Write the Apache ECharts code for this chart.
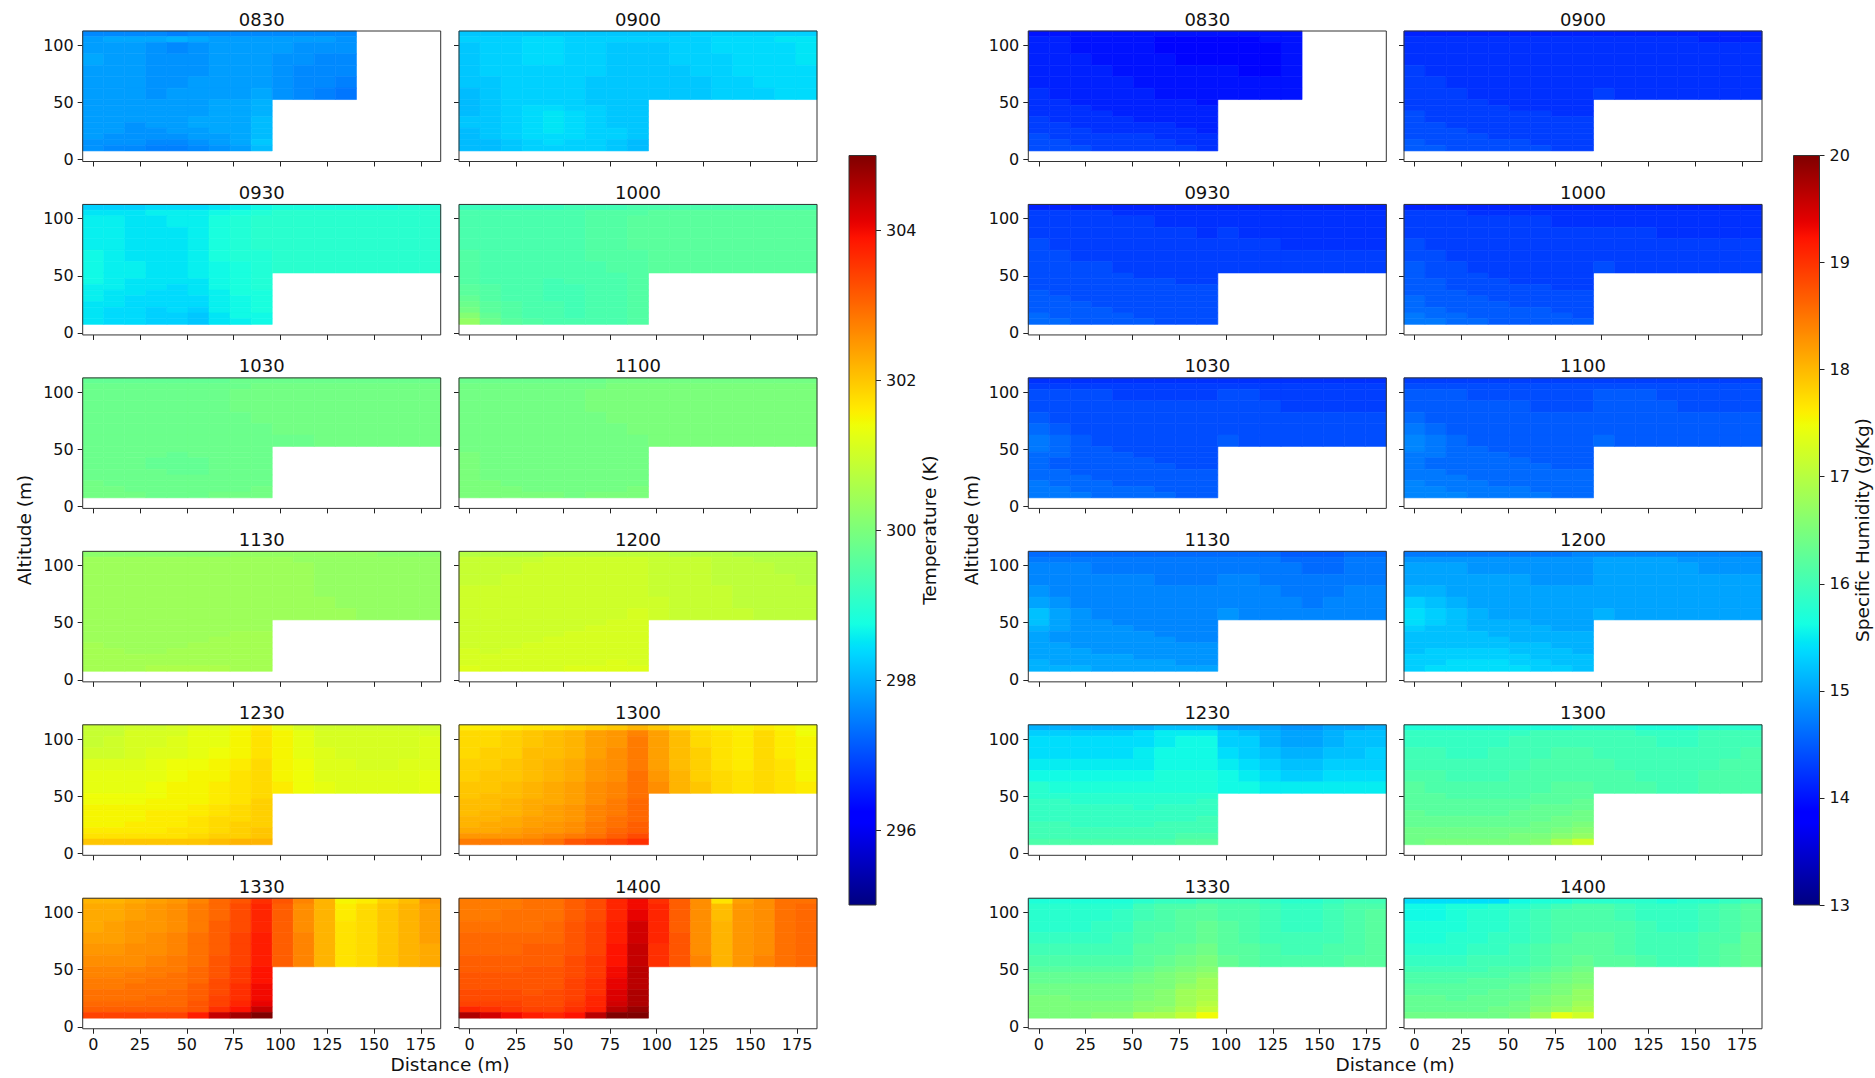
<!DOCTYPE html>
<html>
<head>
<meta charset="utf-8">
<title>Temperature and specific humidity cross-sections</title>
<script src="https://cdn.jsdelivr.net/npm/echarts@6/dist/echarts.min.js"></script>
<style>
  html, body { margin: 0; padding: 0; background: #ffffff; }
  #chart { width: 1875px; height: 1078px; }
</style>
</head>
<body>
<div id="chart"></div>
<script>
// ---------------------------------------------------------------------------
// Data
// ---------------------------------------------------------------------------
const times = ['0830', '0900', '0930', '1000', '1030', '1100', '1130', '1200', '1230', '1300', '1330', '1400'];

// horizontal positions of the measurement columns (m)
const distance = [0, 11.25, 22.5, 33.75, 45, 56.25, 67.5, 78.75, 90, 101.25, 112.5, 123.75, 135, 146.25, 157.5, 168.75, 180];
// altitude boundaries of the measurement rows, top to bottom (m)
const altitudeEdges = [112.5, 107.5, 102.5, 92.5, 82.5, 72.5, 62.5, 52.5, 47.5, 42.5, 37.5, 32.5, 27.5, 22.5, 17.5, 12.5, 7.5];

const distanceTicks = [0, 25, 50, 75, 100, 125, 150, 175];
const altitudeTicks = [0, 50, 100];
const temperatureTicks = [296, 298, 300, 302, 304];
const humidityTicks = [13, 14, 15, 16, 17, 18, 19, 20];
const temperatureRange = [295, 305];
const humidityRange = [13, 20];

// Each field: one row per altitude band (top first); a row lists the columns that hold a value, from distance 0.

// ---- Temperature (K) ----
const temp0830 = [
  [297.6, 297.6, 297.6, 297.6, 297.5, 297.6, 297.6, 297.6, 297.6, 297.6, 297.6, 297.6, 297.6],
  [297.8, 297.9, 297.9, 297.9, 298.0, 297.9, 297.8, 297.8, 297.8, 297.8, 297.8, 297.8, 297.7],
  [297.8, 297.8, 297.8, 297.7, 297.6, 297.7, 297.8, 297.8, 297.8, 297.8, 297.7, 297.7, 297.7],
  [297.9, 297.8, 297.8, 297.7, 297.7, 297.7, 297.8, 297.8, 297.8, 297.7, 297.7, 297.6, 297.6],
  [297.8, 297.8, 297.8, 297.7, 297.7, 297.7, 297.8, 297.8, 297.8, 297.7, 297.6, 297.6, 297.6],
  [297.8, 297.8, 297.8, 297.7, 297.7, 297.8, 297.8, 297.8, 297.8, 297.7, 297.6, 297.6, 297.5],
  [297.8, 297.8, 297.8, 297.7, 297.8, 297.8, 297.8, 297.8, 297.9, 297.7, 297.6, 297.5, 297.4],
  [297.8, 297.8, 297.8, 297.8, 297.8, 297.8, 297.9, 297.9, 298.0],
  [297.8, 297.8, 297.8, 297.8, 297.8, 297.8, 297.9, 297.9, 298.0],
  [297.8, 297.8, 297.8, 297.8, 297.8, 297.8, 297.9, 297.9, 298.0],
  [297.8, 297.8, 297.8, 297.8, 297.8, 297.9, 297.9, 297.9, 298.1],
  [297.8, 297.8, 297.7, 297.8, 297.8, 297.9, 297.9, 297.9, 298.1],
  [297.8, 297.8, 297.7, 297.7, 297.8, 297.8, 297.9, 297.9, 298.1],
  [297.8, 297.7, 297.7, 297.7, 297.7, 297.8, 297.8, 297.9, 298.1],
  [297.7, 297.7, 297.7, 297.6, 297.6, 297.7, 297.8, 297.9, 298.2],
  [297.7, 297.6, 297.6, 297.5, 297.5, 297.6, 297.7, 297.8, 298.1]
];
const temp0900 = [
  [298.2, 298.2, 298.2, 298.2, 298.2, 298.2, 298.2, 298.2, 298.2, 298.2, 298.2, 298.3, 298.3, 298.3, 298.3, 298.3, 298.3],
  [298.3, 298.3, 298.3, 298.4, 298.4, 298.3, 298.3, 298.3, 298.3, 298.3, 298.3, 298.3, 298.4, 298.4, 298.4, 298.5, 298.5],
  [298.2, 298.3, 298.3, 298.4, 298.4, 298.3, 298.3, 298.2, 298.2, 298.2, 298.3, 298.3, 298.4, 298.4, 298.4, 298.4, 298.5],
  [298.2, 298.3, 298.3, 298.4, 298.4, 298.3, 298.3, 298.2, 298.2, 298.2, 298.3, 298.3, 298.3, 298.4, 298.4, 298.4, 298.5],
  [298.2, 298.3, 298.3, 298.3, 298.3, 298.3, 298.3, 298.2, 298.2, 298.2, 298.2, 298.3, 298.3, 298.4, 298.4, 298.4, 298.4],
  [298.2, 298.2, 298.3, 298.3, 298.3, 298.3, 298.2, 298.2, 298.2, 298.2, 298.2, 298.2, 298.3, 298.3, 298.4, 298.4, 298.4],
  [298.1, 298.2, 298.3, 298.3, 298.3, 298.3, 298.2, 298.2, 298.2, 298.2, 298.2, 298.2, 298.3, 298.3, 298.3, 298.4, 298.4],
  [298.1, 298.2, 298.3, 298.3, 298.3, 298.3, 298.2, 298.2, 298.2],
  [298.1, 298.2, 298.3, 298.4, 298.4, 298.3, 298.3, 298.2, 298.2],
  [298.1, 298.2, 298.3, 298.4, 298.5, 298.4, 298.3, 298.2, 298.2],
  [298.2, 298.2, 298.3, 298.4, 298.5, 298.4, 298.3, 298.2, 298.2],
  [298.2, 298.2, 298.3, 298.4, 298.5, 298.4, 298.3, 298.2, 298.2],
  [298.1, 298.2, 298.3, 298.4, 298.5, 298.4, 298.3, 298.3, 298.2],
  [298.1, 298.2, 298.3, 298.4, 298.4, 298.4, 298.3, 298.3, 298.2],
  [298.1, 298.1, 298.2, 298.3, 298.4, 298.3, 298.3, 298.2, 298.1],
  [298.1, 298.1, 298.2, 298.3, 298.3, 298.3, 298.3, 298.2, 298.1]
];
const temp0930 = [
  [298.3, 298.3, 298.3, 298.4, 298.4, 298.4, 298.5, 298.6, 298.7, 298.8, 298.8, 298.8, 298.8, 298.8, 298.8, 298.9, 298.9],
  [298.5, 298.5, 298.5, 298.6, 298.6, 298.6, 298.7, 298.8, 298.9, 299.0, 299.0, 299.0, 299.0, 299.0, 299.0, 299.0, 299.0],
  [298.6, 298.6, 298.5, 298.5, 298.6, 298.6, 298.8, 298.9, 299.0, 299.0, 299.0, 299.0, 299.0, 299.0, 299.0, 299.0, 299.0],
  [298.6, 298.6, 298.5, 298.5, 298.5, 298.6, 298.8, 298.9, 299.0, 299.0, 299.0, 299.0, 299.0, 299.0, 299.0, 299.0, 299.0],
  [298.6, 298.6, 298.5, 298.5, 298.5, 298.6, 298.8, 298.9, 299.0, 299.0, 299.0, 299.0, 299.0, 299.0, 299.0, 299.0, 299.0],
  [298.7, 298.6, 298.5, 298.5, 298.5, 298.6, 298.8, 298.9, 298.9, 299.0, 299.0, 299.0, 299.0, 299.0, 299.0, 299.0, 299.0],
  [298.7, 298.6, 298.6, 298.5, 298.5, 298.6, 298.7, 298.8, 298.9, 299.0, 299.0, 299.0, 299.0, 299.0, 299.0, 299.0, 299.0],
  [298.7, 298.6, 298.6, 298.5, 298.5, 298.6, 298.7, 298.8, 298.9],
  [298.7, 298.6, 298.5, 298.5, 298.5, 298.5, 298.7, 298.8, 298.9],
  [298.6, 298.6, 298.5, 298.5, 298.4, 298.5, 298.7, 298.8, 298.9],
  [298.6, 298.5, 298.5, 298.4, 298.4, 298.5, 298.6, 298.8, 298.8],
  [298.6, 298.5, 298.4, 298.4, 298.4, 298.4, 298.6, 298.7, 298.8],
  [298.5, 298.5, 298.4, 298.4, 298.4, 298.4, 298.6, 298.7, 298.8],
  [298.5, 298.4, 298.4, 298.3, 298.4, 298.3, 298.6, 298.7, 298.8],
  [298.5, 298.4, 298.4, 298.3, 298.3, 298.2, 298.5, 298.7, 298.7],
  [298.5, 298.4, 298.4, 298.3, 298.3, 298.2, 298.5, 298.6, 298.7]
];
const temp1000 = [
  [299.2, 299.2, 299.2, 299.2, 299.2, 299.3, 299.3, 299.3, 299.4, 299.4, 299.4, 299.4, 299.4, 299.4, 299.4, 299.4, 299.4],
  [299.4, 299.4, 299.4, 299.4, 299.4, 299.4, 299.5, 299.5, 299.5, 299.6, 299.6, 299.6, 299.6, 299.6, 299.6, 299.6, 299.6],
  [299.4, 299.4, 299.4, 299.4, 299.4, 299.4, 299.5, 299.5, 299.6, 299.6, 299.6, 299.6, 299.6, 299.6, 299.6, 299.6, 299.6],
  [299.4, 299.4, 299.4, 299.4, 299.4, 299.4, 299.5, 299.5, 299.6, 299.6, 299.6, 299.6, 299.6, 299.6, 299.6, 299.6, 299.6],
  [299.4, 299.4, 299.4, 299.4, 299.4, 299.4, 299.5, 299.5, 299.6, 299.6, 299.6, 299.6, 299.6, 299.6, 299.6, 299.6, 299.6],
  [299.5, 299.4, 299.4, 299.4, 299.4, 299.4, 299.5, 299.5, 299.5, 299.6, 299.6, 299.6, 299.6, 299.6, 299.6, 299.6, 299.6],
  [299.5, 299.4, 299.4, 299.4, 299.4, 299.4, 299.4, 299.5, 299.5, 299.6, 299.6, 299.6, 299.6, 299.6, 299.6, 299.6, 299.6],
  [299.5, 299.4, 299.4, 299.4, 299.4, 299.4, 299.4, 299.4, 299.5],
  [299.5, 299.4, 299.4, 299.4, 299.3, 299.4, 299.4, 299.4, 299.5],
  [299.6, 299.5, 299.4, 299.4, 299.3, 299.3, 299.4, 299.4, 299.5],
  [299.6, 299.5, 299.4, 299.4, 299.3, 299.3, 299.4, 299.4, 299.5],
  [299.7, 299.5, 299.4, 299.4, 299.3, 299.3, 299.4, 299.4, 299.5],
  [299.8, 299.6, 299.5, 299.4, 299.4, 299.3, 299.4, 299.4, 299.5],
  [299.9, 299.6, 299.5, 299.4, 299.4, 299.3, 299.4, 299.4, 299.5],
  [300.1, 299.7, 299.5, 299.4, 299.4, 299.3, 299.4, 299.4, 299.5],
  [300.3, 299.8, 299.6, 299.5, 299.4, 299.4, 299.4, 299.4, 299.5]
];
const temp1030 = [
  [299.7, 299.7, 299.7, 299.7, 299.7, 299.7, 299.7, 299.8, 299.8, 299.8, 299.8, 299.8, 299.8, 299.8, 299.8, 299.8, 299.8],
  [299.8, 299.8, 299.8, 299.8, 299.8, 299.8, 299.8, 299.8, 299.9, 299.9, 299.9, 299.9, 299.9, 299.9, 299.9, 299.9, 299.9],
  [299.8, 299.8, 299.8, 299.8, 299.8, 299.8, 299.8, 299.9, 299.9, 299.9, 299.9, 299.9, 299.9, 299.9, 299.9, 299.9, 299.9],
  [299.8, 299.8, 299.8, 299.8, 299.8, 299.8, 299.8, 299.9, 299.9, 299.9, 299.9, 299.9, 299.9, 299.9, 299.9, 299.9, 299.9],
  [299.8, 299.8, 299.8, 299.8, 299.8, 299.8, 299.8, 299.8, 299.9, 299.9, 299.9, 299.9, 299.9, 299.9, 299.9, 299.9, 299.9],
  [299.8, 299.8, 299.8, 299.8, 299.8, 299.8, 299.8, 299.8, 299.8, 299.9, 299.9, 299.9, 299.9, 299.9, 299.9, 299.9, 299.9],
  [299.8, 299.8, 299.8, 299.8, 299.8, 299.8, 299.8, 299.8, 299.8, 299.8, 299.8, 299.9, 299.9, 299.9, 299.9, 299.9, 299.9],
  [299.8, 299.8, 299.8, 299.8, 299.8, 299.8, 299.8, 299.8, 299.8],
  [299.8, 299.8, 299.8, 299.8, 299.7, 299.8, 299.8, 299.8, 299.8],
  [299.8, 299.8, 299.8, 299.7, 299.7, 299.7, 299.8, 299.8, 299.8],
  [299.8, 299.8, 299.8, 299.7, 299.7, 299.7, 299.8, 299.8, 299.8],
  [299.8, 299.8, 299.8, 299.8, 299.7, 299.7, 299.8, 299.8, 299.8],
  [299.8, 299.8, 299.8, 299.8, 299.8, 299.8, 299.8, 299.8, 299.8],
  [299.9, 299.8, 299.8, 299.8, 299.8, 299.8, 299.8, 299.8, 299.8],
  [299.9, 299.9, 299.8, 299.8, 299.8, 299.8, 299.8, 299.8, 299.9],
  [299.9, 299.9, 299.9, 299.8, 299.8, 299.8, 299.9, 299.9, 299.9]
];
const temp1100 = [
  [299.8, 299.8, 299.8, 299.8, 299.8, 299.8, 299.8, 299.9, 299.9, 299.9, 299.9, 299.9, 299.9, 299.9, 299.9, 299.9, 299.9],
  [299.9, 299.9, 299.9, 299.9, 299.9, 299.9, 299.9, 300.0, 300.0, 300.0, 300.0, 300.0, 300.0, 300.0, 300.0, 300.0, 300.0],
  [299.9, 299.9, 299.9, 299.9, 299.9, 299.9, 300.0, 300.0, 300.0, 300.0, 300.0, 300.0, 300.0, 300.0, 300.0, 300.0, 300.0],
  [299.9, 299.9, 299.9, 299.9, 299.9, 299.9, 300.0, 300.0, 300.0, 300.0, 300.0, 300.0, 300.0, 300.0, 300.0, 300.0, 300.0],
  [299.9, 299.9, 299.9, 299.9, 299.9, 299.9, 299.9, 300.0, 300.0, 300.0, 300.0, 300.0, 300.0, 300.0, 300.0, 300.0, 300.0],
  [299.9, 299.9, 299.9, 299.9, 299.9, 299.9, 299.9, 299.9, 300.0, 300.0, 300.0, 300.0, 300.0, 300.0, 300.0, 300.0, 300.0],
  [299.9, 299.9, 299.9, 299.9, 299.9, 299.9, 299.9, 299.9, 299.9, 300.0, 300.0, 300.0, 300.0, 300.0, 300.0, 300.0, 300.0],
  [299.9, 299.9, 299.9, 299.9, 299.9, 299.9, 299.9, 299.9, 299.9],
  [300.0, 299.9, 299.9, 299.9, 299.9, 299.9, 299.9, 299.9, 299.9],
  [300.0, 299.9, 299.9, 299.9, 299.9, 299.9, 299.9, 299.9, 299.9],
  [300.0, 299.9, 299.9, 299.9, 299.9, 299.9, 299.9, 299.9, 299.9],
  [300.0, 299.9, 299.9, 299.9, 299.9, 299.9, 299.9, 299.9, 299.9],
  [300.0, 299.9, 299.9, 299.9, 299.9, 299.9, 299.9, 299.9, 299.9],
  [300.0, 300.0, 299.9, 299.9, 299.9, 299.9, 299.9, 299.9, 299.9],
  [300.0, 300.0, 300.0, 299.9, 299.9, 299.9, 299.9, 299.9, 300.0],
  [300.0, 300.0, 300.0, 300.0, 300.0, 299.9, 300.0, 300.0, 300.0]
];
const temp1130 = [
  [300.2, 300.2, 300.2, 300.2, 300.2, 300.2, 300.2, 300.3, 300.3, 300.3, 300.3, 300.3, 300.3, 300.3, 300.2, 300.2, 300.2],
  [300.4, 300.4, 300.4, 300.4, 300.4, 300.4, 300.4, 300.4, 300.4, 300.4, 300.3, 300.3, 300.3, 300.3, 300.3, 300.3, 300.3],
  [300.4, 300.4, 300.4, 300.4, 300.4, 300.4, 300.4, 300.4, 300.4, 300.4, 300.4, 300.3, 300.3, 300.3, 300.3, 300.3, 300.3],
  [300.4, 300.4, 300.4, 300.4, 300.4, 300.4, 300.4, 300.4, 300.4, 300.4, 300.4, 300.3, 300.3, 300.3, 300.3, 300.3, 300.3],
  [300.4, 300.4, 300.4, 300.4, 300.4, 300.4, 300.4, 300.4, 300.4, 300.4, 300.4, 300.3, 300.3, 300.3, 300.3, 300.3, 300.3],
  [300.4, 300.4, 300.4, 300.4, 300.4, 300.4, 300.4, 300.4, 300.4, 300.4, 300.4, 300.4, 300.3, 300.3, 300.3, 300.3, 300.3],
  [300.4, 300.4, 300.4, 300.4, 300.4, 300.4, 300.4, 300.4, 300.4, 300.4, 300.4, 300.4, 300.4, 300.3, 300.3, 300.3, 300.3],
  [300.4, 300.4, 300.4, 300.4, 300.4, 300.4, 300.4, 300.4, 300.4],
  [300.4, 300.4, 300.4, 300.4, 300.4, 300.4, 300.4, 300.4, 300.4],
  [300.4, 300.4, 300.4, 300.4, 300.4, 300.4, 300.4, 300.5, 300.5],
  [300.4, 300.4, 300.4, 300.4, 300.4, 300.4, 300.5, 300.5, 300.5],
  [300.5, 300.4, 300.4, 300.4, 300.4, 300.5, 300.5, 300.5, 300.5],
  [300.5, 300.5, 300.4, 300.4, 300.5, 300.5, 300.5, 300.5, 300.5],
  [300.5, 300.5, 300.5, 300.5, 300.5, 300.5, 300.5, 300.5, 300.5],
  [300.5, 300.5, 300.5, 300.5, 300.5, 300.5, 300.5, 300.5, 300.5],
  [300.5, 300.5, 300.5, 300.6, 300.6, 300.6, 300.6, 300.5, 300.5]
];
const temp1200 = [
  [300.7, 300.7, 300.7, 300.7, 300.8, 300.8, 300.8, 300.8, 300.8, 300.8, 300.7, 300.7, 300.7, 300.6, 300.6, 300.6, 300.6],
  [300.9, 300.9, 300.9, 300.9, 301.0, 301.0, 301.0, 301.0, 301.0, 300.9, 300.9, 300.9, 300.8, 300.8, 300.7, 300.7, 300.7],
  [300.9, 300.9, 300.9, 301.0, 301.0, 301.0, 301.0, 301.0, 301.0, 300.9, 300.9, 300.9, 300.8, 300.8, 300.8, 300.7, 300.7],
  [300.9, 300.9, 301.0, 301.0, 301.0, 301.0, 301.0, 301.0, 301.0, 300.9, 300.9, 300.9, 300.8, 300.8, 300.8, 300.8, 300.7],
  [301.0, 301.0, 301.0, 301.0, 301.0, 301.0, 301.0, 301.0, 301.0, 300.9, 300.9, 300.9, 300.9, 300.8, 300.8, 300.8, 300.8],
  [301.0, 301.0, 301.0, 301.0, 301.0, 301.0, 301.0, 301.0, 301.0, 301.0, 300.9, 300.9, 300.9, 300.8, 300.8, 300.8, 300.8],
  [301.0, 301.0, 301.0, 301.0, 301.0, 301.0, 301.0, 301.0, 301.1, 301.0, 300.9, 300.9, 300.9, 300.9, 300.8, 300.8, 300.8],
  [301.0, 301.0, 301.0, 301.0, 301.0, 301.0, 301.0, 301.1, 301.1],
  [301.0, 301.0, 301.0, 301.0, 301.0, 301.0, 301.1, 301.1, 301.1],
  [301.0, 301.0, 301.0, 301.0, 301.0, 301.1, 301.1, 301.1, 301.1],
  [301.0, 301.0, 301.0, 301.0, 301.1, 301.1, 301.1, 301.1, 301.1],
  [301.0, 301.0, 301.0, 301.1, 301.1, 301.1, 301.1, 301.1, 301.1],
  [301.1, 301.0, 301.1, 301.1, 301.1, 301.1, 301.1, 301.1, 301.1],
  [301.1, 301.1, 301.1, 301.1, 301.1, 301.1, 301.1, 301.1, 301.1],
  [301.1, 301.1, 301.1, 301.1, 301.1, 301.1, 301.1, 301.2, 301.1],
  [301.2, 301.1, 301.1, 301.1, 301.1, 301.2, 301.2, 301.2, 301.2]
];
const temp1230 = [
  [300.9, 300.9, 301.0, 301.0, 301.1, 301.2, 301.2, 301.4, 301.6, 301.3, 301.1, 301.0, 301.0, 301.0, 301.0, 301.0, 301.0],
  [300.9, 300.9, 301.1, 301.1, 301.1, 301.3, 301.3, 301.5, 301.7, 301.5, 301.3, 301.1, 301.1, 301.1, 301.1, 301.1, 301.1],
  [300.9, 301.0, 301.1, 301.1, 301.2, 301.3, 301.3, 301.5, 301.7, 301.5, 301.3, 301.1, 301.1, 301.1, 301.1, 301.1, 301.2],
  [301.0, 301.0, 301.1, 301.2, 301.2, 301.3, 301.4, 301.5, 301.7, 301.5, 301.3, 301.2, 301.1, 301.1, 301.1, 301.1, 301.2],
  [301.2, 301.2, 301.2, 301.3, 301.4, 301.4, 301.5, 301.6, 301.8, 301.5, 301.4, 301.2, 301.2, 301.1, 301.1, 301.2, 301.2],
  [301.3, 301.3, 301.3, 301.3, 301.4, 301.5, 301.5, 301.7, 301.8, 301.5, 301.4, 301.2, 301.2, 301.2, 301.2, 301.2, 301.3],
  [301.3, 301.3, 301.3, 301.4, 301.5, 301.5, 301.6, 301.7, 301.8, 301.6, 301.4, 301.3, 301.2, 301.2, 301.2, 301.2, 301.3],
  [301.4, 301.4, 301.4, 301.4, 301.5, 301.5, 301.6, 301.7, 301.8],
  [301.4, 301.4, 301.4, 301.5, 301.5, 301.5, 301.6, 301.7, 301.9],
  [301.5, 301.5, 301.5, 301.5, 301.5, 301.6, 301.7, 301.8, 301.9],
  [301.5, 301.5, 301.5, 301.6, 301.6, 301.6, 301.7, 301.8, 301.9],
  [301.5, 301.5, 301.5, 301.6, 301.6, 301.7, 301.8, 301.8, 301.9],
  [301.5, 301.5, 301.6, 301.6, 301.6, 301.7, 301.8, 301.9, 301.9],
  [301.6, 301.6, 301.6, 301.6, 301.7, 301.7, 301.8, 301.9, 302.0],
  [301.7, 301.7, 301.7, 301.7, 301.7, 301.8, 301.9, 301.9, 302.0],
  [302.0, 302.0, 302.0, 302.0, 302.0, 302.0, 302.1, 302.2, 302.2]
];
const temp1300 = [
  [301.6, 301.6, 301.6, 301.7, 301.7, 301.8, 301.9, 302.0, 302.2, 302.0, 301.8, 301.6, 301.5, 301.5, 301.6, 301.5, 301.4],
  [301.8, 301.8, 301.9, 302.0, 302.1, 302.2, 302.4, 302.5, 302.7, 302.4, 302.1, 301.8, 301.7, 301.6, 301.8, 301.6, 301.4],
  [301.8, 301.8, 301.9, 302.0, 302.1, 302.2, 302.4, 302.5, 302.8, 302.4, 302.1, 301.8, 301.7, 301.6, 301.8, 301.6, 301.5],
  [301.8, 301.9, 301.9, 302.1, 302.1, 302.2, 302.4, 302.6, 302.8, 302.4, 302.1, 301.9, 301.7, 301.6, 301.8, 301.6, 301.5],
  [301.9, 301.9, 302.0, 302.1, 302.2, 302.3, 302.5, 302.6, 302.8, 302.4, 302.1, 301.9, 301.7, 301.6, 301.8, 301.7, 301.5],
  [301.9, 302.0, 302.0, 302.1, 302.2, 302.3, 302.5, 302.6, 302.9, 302.5, 302.2, 301.9, 301.8, 301.7, 301.8, 301.7, 301.5],
  [302.0, 302.0, 302.1, 302.2, 302.3, 302.4, 302.6, 302.7, 302.9, 302.6, 302.2, 302.0, 301.8, 301.7, 301.8, 301.7, 301.6],
  [302.0, 302.1, 302.1, 302.2, 302.3, 302.4, 302.6, 302.7, 302.9],
  [302.1, 302.1, 302.2, 302.3, 302.3, 302.4, 302.6, 302.8, 303.0],
  [302.1, 302.1, 302.2, 302.3, 302.4, 302.5, 302.7, 302.8, 303.0],
  [302.1, 302.2, 302.2, 302.3, 302.4, 302.5, 302.7, 302.8, 303.0],
  [302.2, 302.2, 302.3, 302.4, 302.4, 302.5, 302.7, 302.9, 303.0],
  [302.2, 302.3, 302.3, 302.4, 302.5, 302.6, 302.8, 302.9, 303.1],
  [302.3, 302.3, 302.4, 302.5, 302.5, 302.6, 302.8, 303.0, 303.1],
  [302.5, 302.5, 302.5, 302.6, 302.7, 302.8, 302.9, 303.1, 303.3],
  [302.8, 302.8, 302.8, 302.8, 302.9, 303.2, 303.3, 303.4, 303.6]
];
const temp1330 = [
  [302.2, 302.2, 302.3, 302.4, 302.5, 302.7, 303.0, 303.2, 303.6, 303.2, 302.7, 302.2, 301.5, 301.6, 301.9, 302.1, 302.5],
  [302.3, 302.3, 302.4, 302.5, 302.6, 302.8, 303.0, 303.3, 303.7, 303.1, 302.6, 302.2, 301.6, 301.8, 302.0, 302.2, 302.4],
  [302.3, 302.3, 302.4, 302.5, 302.6, 302.8, 303.0, 303.3, 303.7, 303.1, 302.6, 302.2, 301.6, 301.8, 302.0, 302.2, 302.4],
  [302.3, 302.4, 302.5, 302.5, 302.6, 302.8, 303.1, 303.3, 303.7, 303.1, 302.6, 302.2, 301.7, 301.8, 302.0, 302.2, 302.4],
  [302.4, 302.4, 302.5, 302.6, 302.7, 302.9, 303.1, 303.4, 303.8, 303.1, 302.7, 302.2, 301.7, 301.8, 302.0, 302.2, 302.4],
  [302.5, 302.5, 302.6, 302.6, 302.7, 302.9, 303.1, 303.4, 303.8, 303.1, 302.7, 302.2, 301.7, 301.8, 302.0, 302.2, 302.3],
  [302.6, 302.6, 302.6, 302.7, 302.8, 302.9, 303.2, 303.4, 303.8, 303.1, 302.7, 302.2, 301.7, 301.8, 302.0, 302.2, 302.3],
  [302.7, 302.7, 302.7, 302.8, 302.8, 303.0, 303.2, 303.5, 303.9],
  [302.7, 302.7, 302.8, 302.8, 302.9, 303.0, 303.2, 303.5, 303.9],
  [302.8, 302.8, 302.8, 302.9, 302.9, 303.0, 303.3, 303.5, 303.9],
  [302.8, 302.8, 302.9, 302.9, 302.9, 303.1, 303.3, 303.6, 304.0],
  [302.9, 302.9, 302.9, 302.9, 303.0, 303.1, 303.3, 303.6, 304.0],
  [302.9, 302.9, 302.9, 303.0, 303.0, 303.1, 303.4, 303.6, 304.0],
  [303.0, 303.0, 303.0, 303.0, 303.0, 303.2, 303.4, 303.7, 304.1],
  [303.1, 303.1, 303.1, 303.1, 303.1, 303.2, 303.6, 303.9, 304.4],
  [303.4, 303.4, 303.4, 303.4, 303.4, 303.8, 304.4, 304.7, 305.0]
];
const temp1400 = [
  [302.8, 302.8, 302.8, 302.9, 302.9, 303.1, 303.3, 303.7, 304.0, 303.6, 303.1, 302.6, 301.7, 302.4, 302.6, 302.9, 302.9],
  [302.8, 302.8, 302.8, 302.9, 302.9, 303.1, 303.3, 303.7, 304.0, 303.7, 303.1, 302.6, 302.1, 302.5, 302.6, 302.9, 303.0],
  [302.8, 302.8, 302.9, 302.9, 302.9, 303.1, 303.3, 303.7, 304.1, 303.7, 303.1, 302.6, 302.1, 302.5, 302.6, 302.9, 303.0],
  [302.9, 302.9, 302.9, 302.9, 303.0, 303.2, 303.4, 303.8, 304.3, 303.7, 303.1, 302.6, 302.2, 302.5, 302.6, 302.9, 303.0],
  [303.0, 303.0, 303.0, 303.0, 303.0, 303.2, 303.4, 303.8, 304.3, 303.7, 303.2, 302.6, 302.2, 302.5, 302.6, 302.9, 303.0],
  [303.0, 303.0, 303.0, 303.1, 303.1, 303.2, 303.4, 303.9, 304.4, 303.6, 303.2, 302.6, 302.2, 302.5, 302.6, 302.9, 303.0],
  [303.1, 303.1, 303.1, 303.1, 303.1, 303.3, 303.5, 303.9, 304.4, 303.6, 303.2, 302.7, 302.2, 302.5, 302.7, 302.9, 303.0],
  [303.1, 303.1, 303.1, 303.2, 303.2, 303.3, 303.5, 304.0, 304.5],
  [303.2, 303.2, 303.2, 303.2, 303.2, 303.3, 303.5, 304.0, 304.5],
  [303.2, 303.2, 303.2, 303.2, 303.2, 303.4, 303.6, 304.1, 304.5],
  [303.2, 303.2, 303.2, 303.2, 303.2, 303.4, 303.6, 304.1, 304.5],
  [303.3, 303.3, 303.3, 303.2, 303.3, 303.4, 303.6, 304.2, 304.6],
  [303.3, 303.3, 303.3, 303.3, 303.3, 303.4, 303.7, 304.2, 304.6],
  [303.4, 303.4, 303.4, 303.3, 303.3, 303.5, 303.7, 304.3, 304.6],
  [303.7, 303.6, 303.5, 303.4, 303.4, 303.6, 303.8, 304.5, 304.8],
  [304.6, 304.3, 304.0, 303.8, 303.7, 303.9, 304.5, 305.0, 305.0]
];

// ---- Specific humidity (g/kg) ----
const hum0830 = [
  [14.0, 14.0, 14.0, 14.0, 14.0, 14.0, 14.0, 14.0, 14.0, 14.0, 14.0, 14.0, 14.0],
  [14.1, 14.1, 14.0, 14.0, 14.0, 14.0, 13.9, 13.9, 13.9, 13.9, 13.9, 14.0, 14.0],
  [14.1, 14.1, 14.0, 14.0, 14.0, 14.0, 13.9, 13.9, 13.9, 13.9, 13.9, 13.9, 14.0],
  [14.1, 14.1, 14.1, 14.0, 14.0, 14.0, 14.0, 13.9, 13.9, 13.9, 13.9, 13.9, 14.0],
  [14.1, 14.1, 14.1, 14.1, 14.0, 14.0, 14.0, 14.0, 14.0, 14.0, 13.9, 13.9, 14.0],
  [14.1, 14.1, 14.1, 14.1, 14.1, 14.0, 14.0, 14.0, 14.0, 14.0, 14.0, 14.0, 14.0],
  [14.2, 14.1, 14.1, 14.1, 14.1, 14.1, 14.0, 14.0, 14.0, 14.0, 14.0, 14.0, 14.0],
  [14.2, 14.2, 14.1, 14.1, 14.1, 14.1, 14.1, 14.1, 14.0],
  [14.2, 14.2, 14.2, 14.1, 14.1, 14.1, 14.1, 14.1, 14.1],
  [14.2, 14.2, 14.2, 14.2, 14.1, 14.1, 14.1, 14.1, 14.1],
  [14.3, 14.2, 14.2, 14.2, 14.2, 14.1, 14.1, 14.1, 14.1],
  [14.3, 14.3, 14.2, 14.2, 14.2, 14.2, 14.2, 14.1, 14.1],
  [14.3, 14.3, 14.3, 14.2, 14.2, 14.2, 14.2, 14.2, 14.1],
  [14.4, 14.3, 14.3, 14.3, 14.3, 14.3, 14.2, 14.2, 14.2],
  [14.4, 14.4, 14.3, 14.3, 14.3, 14.3, 14.3, 14.2, 14.2],
  [14.4, 14.4, 14.4, 14.3, 14.3, 14.3, 14.3, 14.3, 14.2]
];
const hum0900 = [
  [14.1, 14.1, 14.1, 14.1, 14.1, 14.1, 14.1, 14.1, 14.1, 14.1, 14.1, 14.1, 14.1, 14.1, 14.1, 14.1, 14.1],
  [14.2, 14.2, 14.2, 14.2, 14.2, 14.2, 14.2, 14.2, 14.2, 14.2, 14.2, 14.2, 14.2, 14.2, 14.1, 14.1, 14.1],
  [14.2, 14.2, 14.2, 14.2, 14.2, 14.2, 14.2, 14.2, 14.2, 14.2, 14.2, 14.2, 14.2, 14.2, 14.2, 14.2, 14.2],
  [14.2, 14.2, 14.2, 14.2, 14.2, 14.2, 14.2, 14.2, 14.2, 14.2, 14.2, 14.2, 14.2, 14.2, 14.2, 14.2, 14.2],
  [14.3, 14.2, 14.2, 14.2, 14.2, 14.2, 14.2, 14.2, 14.2, 14.2, 14.2, 14.2, 14.2, 14.2, 14.2, 14.2, 14.2],
  [14.3, 14.3, 14.2, 14.2, 14.2, 14.2, 14.2, 14.2, 14.2, 14.2, 14.2, 14.2, 14.2, 14.2, 14.2, 14.2, 14.2],
  [14.3, 14.3, 14.3, 14.2, 14.2, 14.2, 14.2, 14.2, 14.2, 14.3, 14.2, 14.2, 14.2, 14.2, 14.2, 14.2, 14.2],
  [14.3, 14.3, 14.3, 14.3, 14.2, 14.2, 14.2, 14.2, 14.2],
  [14.3, 14.3, 14.3, 14.3, 14.3, 14.2, 14.2, 14.2, 14.2],
  [14.4, 14.3, 14.3, 14.3, 14.3, 14.3, 14.3, 14.2, 14.2],
  [14.4, 14.3, 14.3, 14.3, 14.3, 14.3, 14.3, 14.3, 14.3],
  [14.4, 14.4, 14.3, 14.3, 14.3, 14.3, 14.3, 14.3, 14.3],
  [14.4, 14.4, 14.4, 14.3, 14.3, 14.3, 14.3, 14.3, 14.3],
  [14.4, 14.4, 14.4, 14.4, 14.3, 14.3, 14.3, 14.3, 14.3],
  [14.5, 14.4, 14.4, 14.4, 14.4, 14.4, 14.3, 14.3, 14.3],
  [14.5, 14.5, 14.4, 14.4, 14.4, 14.4, 14.4, 14.3, 14.3]
];
const hum0930 = [
  [14.1, 14.1, 14.1, 14.1, 14.1, 14.1, 14.1, 14.1, 14.1, 14.1, 14.1, 14.1, 14.1, 14.1, 14.1, 14.1, 14.1],
  [14.3, 14.3, 14.3, 14.3, 14.2, 14.2, 14.2, 14.2, 14.2, 14.2, 14.2, 14.2, 14.2, 14.2, 14.2, 14.2, 14.2],
  [14.3, 14.3, 14.3, 14.3, 14.3, 14.3, 14.2, 14.2, 14.2, 14.2, 14.2, 14.2, 14.2, 14.2, 14.2, 14.2, 14.2],
  [14.3, 14.3, 14.3, 14.3, 14.3, 14.3, 14.3, 14.3, 14.2, 14.3, 14.2, 14.2, 14.2, 14.2, 14.2, 14.2, 14.2],
  [14.4, 14.3, 14.3, 14.3, 14.3, 14.3, 14.3, 14.3, 14.3, 14.3, 14.3, 14.3, 14.2, 14.2, 14.2, 14.2, 14.2],
  [14.4, 14.4, 14.3, 14.3, 14.3, 14.3, 14.3, 14.3, 14.3, 14.3, 14.3, 14.3, 14.3, 14.3, 14.3, 14.3, 14.3],
  [14.4, 14.4, 14.4, 14.4, 14.3, 14.3, 14.3, 14.3, 14.3, 14.3, 14.3, 14.3, 14.3, 14.3, 14.3, 14.3, 14.3],
  [14.4, 14.4, 14.4, 14.4, 14.4, 14.3, 14.3, 14.3, 14.3],
  [14.4, 14.4, 14.4, 14.4, 14.4, 14.4, 14.4, 14.3, 14.3],
  [14.4, 14.4, 14.4, 14.4, 14.4, 14.4, 14.4, 14.4, 14.4],
  [14.5, 14.4, 14.4, 14.4, 14.4, 14.4, 14.4, 14.4, 14.4],
  [14.5, 14.5, 14.4, 14.4, 14.4, 14.4, 14.4, 14.4, 14.4],
  [14.5, 14.5, 14.5, 14.4, 14.4, 14.4, 14.4, 14.4, 14.4],
  [14.5, 14.5, 14.5, 14.5, 14.4, 14.4, 14.4, 14.4, 14.4],
  [14.6, 14.5, 14.5, 14.5, 14.5, 14.4, 14.4, 14.4, 14.4],
  [14.6, 14.6, 14.5, 14.5, 14.5, 14.5, 14.4, 14.4, 14.4]
];
const hum1000 = [
  [14.1, 14.1, 14.1, 14.1, 14.1, 14.1, 14.1, 14.1, 14.1, 14.1, 14.1, 14.1, 14.1, 14.1, 14.1, 14.1, 14.1],
  [14.3, 14.3, 14.3, 14.2, 14.2, 14.2, 14.2, 14.2, 14.2, 14.2, 14.2, 14.2, 14.2, 14.2, 14.2, 14.2, 14.2],
  [14.3, 14.3, 14.3, 14.3, 14.3, 14.3, 14.3, 14.2, 14.2, 14.2, 14.2, 14.2, 14.2, 14.2, 14.2, 14.2, 14.2],
  [14.3, 14.3, 14.3, 14.3, 14.3, 14.3, 14.3, 14.3, 14.3, 14.3, 14.3, 14.3, 14.2, 14.2, 14.2, 14.2, 14.2],
  [14.4, 14.3, 14.3, 14.3, 14.3, 14.3, 14.3, 14.3, 14.3, 14.3, 14.3, 14.3, 14.3, 14.3, 14.3, 14.3, 14.3],
  [14.4, 14.4, 14.3, 14.3, 14.3, 14.3, 14.3, 14.3, 14.3, 14.3, 14.3, 14.3, 14.3, 14.3, 14.3, 14.3, 14.3],
  [14.5, 14.4, 14.4, 14.3, 14.3, 14.3, 14.3, 14.3, 14.3, 14.4, 14.3, 14.3, 14.3, 14.3, 14.3, 14.3, 14.3],
  [14.5, 14.4, 14.4, 14.4, 14.3, 14.3, 14.3, 14.3, 14.3],
  [14.5, 14.5, 14.4, 14.4, 14.4, 14.3, 14.3, 14.3, 14.3],
  [14.5, 14.5, 14.4, 14.4, 14.4, 14.4, 14.4, 14.3, 14.3],
  [14.5, 14.5, 14.5, 14.4, 14.4, 14.4, 14.4, 14.4, 14.4],
  [14.6, 14.5, 14.5, 14.5, 14.4, 14.4, 14.4, 14.4, 14.4],
  [14.6, 14.5, 14.5, 14.5, 14.5, 14.4, 14.4, 14.4, 14.4],
  [14.6, 14.6, 14.5, 14.5, 14.5, 14.5, 14.5, 14.4, 14.4],
  [14.7, 14.6, 14.6, 14.5, 14.5, 14.5, 14.5, 14.5, 14.4],
  [14.7, 14.7, 14.6, 14.6, 14.5, 14.5, 14.5, 14.5, 14.5]
];
const hum1030 = [
  [14.2, 14.2, 14.2, 14.2, 14.2, 14.2, 14.2, 14.2, 14.2, 14.2, 14.2, 14.2, 14.2, 14.2, 14.2, 14.2, 14.2],
  [14.3, 14.3, 14.3, 14.3, 14.3, 14.3, 14.3, 14.3, 14.3, 14.3, 14.3, 14.3, 14.3, 14.3, 14.3, 14.3, 14.3],
  [14.4, 14.4, 14.4, 14.4, 14.3, 14.3, 14.3, 14.3, 14.3, 14.4, 14.4, 14.3, 14.3, 14.3, 14.3, 14.3, 14.3],
  [14.4, 14.4, 14.4, 14.4, 14.4, 14.4, 14.4, 14.4, 14.4, 14.4, 14.4, 14.4, 14.3, 14.3, 14.3, 14.3, 14.3],
  [14.5, 14.4, 14.4, 14.4, 14.4, 14.4, 14.4, 14.4, 14.4, 14.4, 14.4, 14.4, 14.4, 14.4, 14.4, 14.4, 14.4],
  [14.6, 14.5, 14.4, 14.4, 14.4, 14.4, 14.4, 14.4, 14.4, 14.4, 14.4, 14.4, 14.4, 14.4, 14.4, 14.4, 14.4],
  [14.7, 14.6, 14.5, 14.4, 14.4, 14.4, 14.4, 14.4, 14.4, 14.5, 14.4, 14.4, 14.4, 14.4, 14.4, 14.4, 14.4],
  [14.7, 14.6, 14.5, 14.5, 14.4, 14.4, 14.4, 14.4, 14.4],
  [14.6, 14.6, 14.5, 14.5, 14.5, 14.4, 14.4, 14.4, 14.4],
  [14.6, 14.5, 14.5, 14.5, 14.5, 14.5, 14.4, 14.4, 14.4],
  [14.6, 14.5, 14.5, 14.5, 14.5, 14.5, 14.5, 14.4, 14.4],
  [14.6, 14.6, 14.5, 14.5, 14.5, 14.5, 14.5, 14.5, 14.5],
  [14.6, 14.6, 14.6, 14.5, 14.5, 14.5, 14.5, 14.5, 14.5],
  [14.7, 14.6, 14.6, 14.6, 14.5, 14.5, 14.5, 14.5, 14.5],
  [14.7, 14.7, 14.6, 14.6, 14.6, 14.6, 14.5, 14.5, 14.5],
  [14.7, 14.7, 14.7, 14.6, 14.6, 14.6, 14.6, 14.5, 14.5]
];
const hum1100 = [
  [14.3, 14.3, 14.3, 14.3, 14.3, 14.3, 14.3, 14.3, 14.3, 14.3, 14.3, 14.3, 14.3, 14.3, 14.3, 14.3, 14.3],
  [14.4, 14.4, 14.4, 14.4, 14.4, 14.4, 14.4, 14.4, 14.4, 14.4, 14.4, 14.4, 14.4, 14.4, 14.4, 14.4, 14.4],
  [14.5, 14.5, 14.5, 14.4, 14.4, 14.4, 14.4, 14.4, 14.4, 14.5, 14.5, 14.5, 14.4, 14.4, 14.4, 14.4, 14.4],
  [14.5, 14.5, 14.5, 14.5, 14.5, 14.5, 14.4, 14.4, 14.4, 14.5, 14.5, 14.5, 14.5, 14.4, 14.4, 14.4, 14.4],
  [14.6, 14.5, 14.5, 14.5, 14.5, 14.5, 14.5, 14.5, 14.5, 14.5, 14.5, 14.5, 14.5, 14.5, 14.5, 14.5, 14.5],
  [14.7, 14.6, 14.5, 14.5, 14.5, 14.5, 14.5, 14.5, 14.5, 14.5, 14.5, 14.5, 14.5, 14.5, 14.5, 14.5, 14.5],
  [14.8, 14.7, 14.6, 14.5, 14.5, 14.5, 14.5, 14.5, 14.5, 14.6, 14.5, 14.5, 14.5, 14.5, 14.5, 14.5, 14.5],
  [14.8, 14.7, 14.6, 14.6, 14.5, 14.5, 14.5, 14.5, 14.5],
  [14.7, 14.7, 14.6, 14.6, 14.6, 14.5, 14.5, 14.5, 14.5],
  [14.7, 14.6, 14.6, 14.6, 14.6, 14.6, 14.5, 14.5, 14.5],
  [14.7, 14.6, 14.6, 14.6, 14.6, 14.6, 14.6, 14.5, 14.5],
  [14.7, 14.7, 14.6, 14.6, 14.6, 14.6, 14.6, 14.6, 14.6],
  [14.7, 14.7, 14.7, 14.6, 14.6, 14.6, 14.6, 14.6, 14.6],
  [14.8, 14.7, 14.7, 14.7, 14.6, 14.6, 14.6, 14.6, 14.6],
  [14.8, 14.8, 14.7, 14.7, 14.7, 14.7, 14.6, 14.6, 14.6],
  [14.8, 14.8, 14.8, 14.7, 14.7, 14.7, 14.7, 14.6, 14.6]
];
const hum1130 = [
  [14.6, 14.6, 14.6, 14.6, 14.6, 14.6, 14.6, 14.6, 14.6, 14.6, 14.6, 14.6, 14.5, 14.5, 14.5, 14.6, 14.6],
  [14.7, 14.7, 14.7, 14.7, 14.7, 14.7, 14.7, 14.7, 14.7, 14.7, 14.7, 14.7, 14.6, 14.6, 14.6, 14.7, 14.7],
  [14.8, 14.8, 14.8, 14.7, 14.7, 14.7, 14.7, 14.7, 14.7, 14.7, 14.7, 14.7, 14.7, 14.6, 14.6, 14.7, 14.7],
  [14.8, 14.8, 14.8, 14.8, 14.8, 14.8, 14.7, 14.7, 14.7, 14.8, 14.8, 14.7, 14.7, 14.7, 14.7, 14.7, 14.7],
  [14.9, 14.8, 14.8, 14.8, 14.8, 14.8, 14.8, 14.8, 14.8, 14.8, 14.8, 14.8, 14.7, 14.7, 14.7, 14.8, 14.8],
  [15.0, 14.9, 14.8, 14.8, 14.8, 14.8, 14.8, 14.8, 14.8, 14.8, 14.8, 14.8, 14.8, 14.7, 14.8, 14.8, 14.8],
  [15.2, 15.0, 14.9, 14.8, 14.8, 14.8, 14.8, 14.8, 14.8, 14.9, 14.8, 14.8, 14.8, 14.8, 14.8, 14.8, 14.8],
  [15.2, 15.0, 14.9, 14.9, 14.8, 14.8, 14.8, 14.8, 14.8],
  [15.1, 15.0, 14.9, 14.9, 14.9, 14.8, 14.8, 14.8, 14.8],
  [15.0, 14.9, 14.9, 14.9, 14.9, 14.9, 14.8, 14.8, 14.8],
  [15.0, 14.9, 14.9, 14.9, 14.9, 14.9, 14.9, 14.8, 14.8],
  [15.0, 15.0, 14.9, 14.9, 14.9, 14.9, 14.9, 14.9, 14.9],
  [15.0, 15.0, 15.0, 14.9, 14.9, 14.9, 14.9, 14.9, 14.9],
  [15.0, 15.0, 15.0, 15.0, 15.0, 14.9, 14.9, 14.9, 14.9],
  [15.1, 15.0, 15.0, 15.0, 15.0, 15.0, 15.0, 14.9, 14.9],
  [15.1, 15.1, 15.1, 15.0, 15.0, 15.0, 15.0, 15.0, 15.0]
];
const hum1200 = [
  [14.7, 14.7, 14.7, 14.7, 14.7, 14.7, 14.7, 14.7, 14.8, 14.8, 14.8, 14.8, 14.8, 14.8, 14.8, 14.8, 14.8],
  [14.9, 14.9, 14.9, 14.9, 14.9, 14.9, 14.9, 14.9, 14.9, 15.0, 15.0, 15.0, 15.0, 14.9, 14.9, 14.9, 14.9],
  [15.0, 15.0, 15.0, 14.9, 14.9, 14.9, 14.9, 14.9, 14.9, 15.0, 15.0, 15.0, 15.0, 15.0, 14.9, 14.9, 14.9],
  [15.0, 15.0, 15.0, 15.0, 15.0, 15.0, 14.9, 14.9, 14.9, 15.0, 15.0, 15.0, 15.0, 15.0, 15.0, 15.0, 15.0],
  [15.1, 15.1, 15.0, 15.0, 15.0, 15.0, 15.0, 15.0, 15.0, 15.0, 15.0, 15.0, 15.0, 15.0, 15.0, 15.0, 15.0],
  [15.3, 15.2, 15.1, 15.0, 15.0, 15.0, 15.0, 15.0, 15.0, 15.0, 15.0, 15.0, 15.0, 15.0, 15.0, 15.0, 15.0],
  [15.4, 15.3, 15.2, 15.1, 15.0, 15.0, 15.0, 15.0, 15.0, 15.1, 15.0, 15.0, 15.0, 15.0, 15.0, 15.0, 15.0],
  [15.4, 15.3, 15.2, 15.1, 15.1, 15.1, 15.0, 15.0, 15.0],
  [15.3, 15.2, 15.2, 15.1, 15.1, 15.1, 15.1, 15.0, 15.0],
  [15.2, 15.2, 15.2, 15.2, 15.1, 15.1, 15.1, 15.1, 15.1],
  [15.2, 15.2, 15.2, 15.2, 15.2, 15.1, 15.1, 15.1, 15.1],
  [15.2, 15.2, 15.2, 15.2, 15.2, 15.2, 15.2, 15.1, 15.1],
  [15.2, 15.3, 15.3, 15.3, 15.3, 15.2, 15.2, 15.2, 15.1],
  [15.3, 15.3, 15.3, 15.3, 15.3, 15.3, 15.2, 15.2, 15.2],
  [15.3, 15.3, 15.4, 15.4, 15.4, 15.3, 15.3, 15.2, 15.2],
  [15.3, 15.4, 15.4, 15.4, 15.4, 15.4, 15.3, 15.3, 15.2]
];
const hum1230 = [
  [15.1, 15.1, 15.1, 15.1, 15.1, 15.1, 15.2, 15.2, 15.2, 15.0, 15.0, 15.0, 14.9, 14.9, 15.0, 15.0, 15.1],
  [15.3, 15.3, 15.3, 15.3, 15.3, 15.4, 15.5, 15.5, 15.5, 15.3, 15.2, 15.1, 15.0, 15.0, 15.1, 15.2, 15.2],
  [15.4, 15.4, 15.4, 15.4, 15.4, 15.4, 15.5, 15.6, 15.6, 15.3, 15.3, 15.1, 15.0, 15.0, 15.1, 15.2, 15.2],
  [15.4, 15.4, 15.4, 15.4, 15.4, 15.5, 15.6, 15.6, 15.6, 15.4, 15.3, 15.2, 15.1, 15.1, 15.2, 15.2, 15.3],
  [15.5, 15.5, 15.5, 15.5, 15.5, 15.5, 15.6, 15.6, 15.6, 15.5, 15.4, 15.3, 15.2, 15.2, 15.3, 15.3, 15.3],
  [15.6, 15.6, 15.6, 15.6, 15.6, 15.6, 15.7, 15.7, 15.7, 15.6, 15.5, 15.4, 15.3, 15.3, 15.4, 15.4, 15.4],
  [15.8, 15.7, 15.7, 15.7, 15.7, 15.7, 15.7, 15.7, 15.7, 15.6, 15.6, 15.5, 15.5, 15.5, 15.5, 15.5, 15.5],
  [15.8, 15.8, 15.8, 15.8, 15.8, 15.8, 15.8, 15.8, 15.8],
  [15.9, 15.9, 15.8, 15.8, 15.8, 15.8, 15.8, 15.8, 15.9],
  [15.9, 15.9, 15.9, 15.9, 15.9, 15.8, 15.9, 15.9, 15.9],
  [15.9, 15.9, 15.9, 15.9, 15.9, 15.9, 15.9, 15.9, 15.9],
  [15.9, 15.9, 15.9, 15.9, 15.9, 15.9, 15.9, 15.9, 16.0],
  [16.0, 16.0, 15.9, 15.9, 15.9, 15.9, 16.0, 16.0, 16.0],
  [16.0, 16.0, 16.0, 16.0, 16.0, 16.0, 16.0, 16.0, 16.0],
  [16.0, 16.0, 16.0, 16.0, 16.0, 16.0, 16.0, 16.1, 16.1],
  [16.1, 16.1, 16.1, 16.1, 16.1, 16.1, 16.1, 16.2, 16.2]
];
const hum1300 = [
  [15.7, 15.7, 15.7, 15.7, 15.7, 15.7, 15.7, 15.7, 15.8, 15.8, 15.8, 15.7, 15.7, 15.7, 15.8, 15.8, 15.8],
  [15.9, 15.9, 15.9, 15.9, 15.9, 15.9, 16.0, 16.0, 16.0, 16.0, 16.0, 15.9, 15.9, 15.9, 16.0, 16.0, 16.0],
  [15.9, 15.9, 15.9, 15.9, 15.9, 16.0, 16.0, 16.0, 16.0, 16.0, 16.0, 16.0, 15.9, 15.9, 16.0, 16.0, 16.0],
  [16.0, 16.0, 15.9, 15.9, 16.0, 16.0, 16.0, 16.1, 16.1, 16.0, 16.0, 16.0, 16.0, 16.0, 16.0, 16.0, 16.1],
  [16.0, 16.0, 16.0, 16.0, 16.0, 16.0, 16.1, 16.1, 16.1, 16.1, 16.0, 16.0, 16.0, 16.0, 16.0, 16.1, 16.1],
  [16.1, 16.1, 16.0, 16.0, 16.0, 16.1, 16.1, 16.1, 16.1, 16.1, 16.1, 16.0, 16.0, 16.0, 16.1, 16.1, 16.1],
  [16.2, 16.1, 16.1, 16.1, 16.1, 16.1, 16.1, 16.2, 16.2, 16.1, 16.1, 16.1, 16.0, 16.0, 16.1, 16.1, 16.1],
  [16.2, 16.2, 16.1, 16.1, 16.1, 16.1, 16.2, 16.2, 16.2],
  [16.2, 16.2, 16.2, 16.2, 16.2, 16.2, 16.2, 16.2, 16.3],
  [16.2, 16.2, 16.2, 16.2, 16.2, 16.2, 16.3, 16.3, 16.3],
  [16.3, 16.2, 16.2, 16.2, 16.2, 16.3, 16.3, 16.3, 16.4],
  [16.3, 16.3, 16.3, 16.3, 16.3, 16.3, 16.3, 16.4, 16.4],
  [16.3, 16.3, 16.3, 16.3, 16.3, 16.3, 16.4, 16.4, 16.5],
  [16.4, 16.4, 16.4, 16.4, 16.4, 16.4, 16.4, 16.5, 16.6],
  [16.4, 16.4, 16.4, 16.4, 16.4, 16.5, 16.5, 16.6, 16.7],
  [16.4, 16.5, 16.5, 16.5, 16.5, 16.5, 16.6, 16.9, 17.2]
];
const hum1330 = [
  [15.7, 15.7, 15.7, 15.7, 15.7, 15.8, 15.9, 15.9, 16.0, 16.0, 16.0, 15.9, 15.8, 15.8, 15.9, 16.0, 16.0],
  [15.8, 15.8, 15.8, 15.8, 15.8, 16.0, 16.1, 16.1, 16.2, 16.1, 16.1, 16.0, 15.9, 15.9, 16.0, 16.1, 16.1],
  [15.8, 15.8, 15.8, 15.8, 15.9, 16.0, 16.1, 16.2, 16.2, 16.1, 16.1, 16.0, 15.9, 15.9, 16.0, 16.1, 16.2],
  [15.8, 15.8, 15.8, 15.9, 15.9, 16.1, 16.1, 16.2, 16.3, 16.2, 16.1, 16.0, 15.9, 15.9, 16.0, 16.1, 16.2],
  [15.9, 15.9, 15.9, 15.9, 16.0, 16.1, 16.2, 16.2, 16.3, 16.2, 16.1, 16.0, 16.0, 16.0, 16.0, 16.1, 16.2],
  [16.0, 16.0, 16.0, 16.0, 16.0, 16.2, 16.2, 16.3, 16.4, 16.2, 16.2, 16.1, 16.0, 16.0, 16.1, 16.1, 16.2],
  [16.1, 16.1, 16.1, 16.1, 16.1, 16.2, 16.3, 16.4, 16.5, 16.3, 16.2, 16.1, 16.1, 16.1, 16.1, 16.2, 16.2],
  [16.2, 16.2, 16.2, 16.2, 16.2, 16.3, 16.4, 16.5, 16.6],
  [16.3, 16.3, 16.3, 16.3, 16.3, 16.4, 16.5, 16.6, 16.7],
  [16.3, 16.3, 16.3, 16.3, 16.3, 16.4, 16.5, 16.6, 16.8],
  [16.4, 16.4, 16.4, 16.4, 16.4, 16.5, 16.5, 16.7, 16.8],
  [16.4, 16.4, 16.4, 16.4, 16.4, 16.5, 16.6, 16.8, 16.9],
  [16.5, 16.5, 16.4, 16.4, 16.4, 16.5, 16.6, 16.8, 16.9],
  [16.5, 16.5, 16.5, 16.5, 16.5, 16.6, 16.6, 16.8, 17.0],
  [16.5, 16.5, 16.5, 16.5, 16.5, 16.6, 16.7, 16.9, 17.1],
  [16.5, 16.5, 16.5, 16.6, 16.6, 16.9, 16.9, 17.1, 17.5]
];
const hum1400 = [
  [15.4, 15.4, 15.4, 15.4, 15.4, 15.6, 15.7, 15.7, 15.8, 15.8, 15.8, 15.8, 15.7, 15.8, 15.8, 15.9, 16.0],
  [15.6, 15.6, 15.7, 15.7, 15.8, 15.8, 15.9, 16.0, 16.1, 16.1, 16.0, 15.9, 15.9, 15.9, 16.0, 16.1, 16.2],
  [15.6, 15.6, 15.7, 15.8, 15.8, 15.9, 16.0, 16.1, 16.1, 16.1, 16.0, 15.9, 15.9, 15.9, 16.0, 16.1, 16.2],
  [15.7, 15.7, 15.7, 15.8, 15.8, 15.9, 16.0, 16.1, 16.1, 16.1, 16.1, 16.0, 15.9, 15.9, 16.0, 16.1, 16.2],
  [15.7, 15.7, 15.8, 15.8, 15.9, 15.9, 16.0, 16.1, 16.2, 16.2, 16.1, 16.0, 16.0, 16.0, 16.1, 16.1, 16.3],
  [15.8, 15.8, 15.8, 15.9, 15.9, 16.0, 16.1, 16.2, 16.2, 16.2, 16.1, 16.0, 16.0, 16.0, 16.1, 16.2, 16.3],
  [15.9, 15.9, 15.9, 16.0, 16.0, 16.0, 16.1, 16.2, 16.3, 16.2, 16.2, 16.1, 16.0, 16.0, 16.1, 16.2, 16.3],
  [16.0, 16.0, 16.0, 16.0, 16.1, 16.1, 16.2, 16.3, 16.4],
  [16.1, 16.1, 16.1, 16.1, 16.1, 16.2, 16.3, 16.4, 16.5],
  [16.1, 16.1, 16.1, 16.2, 16.2, 16.2, 16.3, 16.4, 16.5],
  [16.2, 16.2, 16.2, 16.2, 16.2, 16.3, 16.4, 16.5, 16.6],
  [16.2, 16.2, 16.2, 16.2, 16.3, 16.3, 16.4, 16.5, 16.7],
  [16.3, 16.3, 16.2, 16.3, 16.3, 16.3, 16.5, 16.6, 16.7],
  [16.3, 16.3, 16.3, 16.3, 16.3, 16.4, 16.5, 16.6, 16.8],
  [16.3, 16.3, 16.3, 16.3, 16.4, 16.4, 16.6, 16.7, 16.9],
  [16.4, 16.4, 16.4, 16.4, 16.4, 16.5, 16.8, 17.4, 17.2]
];

const temperatureFields = [temp0830, temp0900, temp0930, temp1000, temp1030, temp1100, temp1130, temp1200, temp1230, temp1300, temp1330, temp1400];
const humidityFields = [hum0830, hum0900, hum0930, hum1000, hum1030, hum1100, hum1130, hum1200, hum1230, hum1300, hum1330, hum1400];

// ---------------------------------------------------------------------------
// Colour map (matplotlib "jet")
// ---------------------------------------------------------------------------
const JET = {
  r: [[0, 0], [0.35, 0], [0.66, 1], [0.89, 1], [1, 0.5]],
  g: [[0, 0], [0.125, 0], [0.375, 1], [0.64, 1], [0.91, 0], [1, 0]],
  b: [[0, 0.5], [0.11, 1], [0.34, 1], [0.65, 0], [1, 0]]
};
function jetChannel(pts, t) {
  for (let k = 1; k < pts.length; k++) {
    if (t <= pts[k][0]) {
      const [x0, y0] = pts[k - 1], [x1, y1] = pts[k];
      return y0 + (y1 - y0) * (t - x0) / (x1 - x0);
    }
  }
  return pts[pts.length - 1][1];
}
function jet(t) {
  const c = ch => Math.round(255 * jetChannel(JET[ch], t));
  return 'rgb(' + c('r') + ',' + c('g') + ',' + c('b') + ')';
}
const JET_STEPS = 128;
const jetColors = [];
for (let i = 0; i <= JET_STEPS; i++) jetColors.push(jet(i / JET_STEPS));

// ---------------------------------------------------------------------------
// Geometry helpers (data space)
// ---------------------------------------------------------------------------
function columnEdge(k) {
  if (k === 0) return distance[0] - (distance[1] - distance[0]) / 2;
  if (k === distance.length) return distance[k - 1] + (distance[k - 1] - distance[k - 2]) / 2;
  return (distance[k - 1] + distance[k]) / 2;
}
const X_MIN = columnEdge(0), X_MAX = columnEdge(distance.length);
const Y_MIN = -1.75, Y_MAX = altitudeEdges[0];

function cellsOf(field) {
  const out = [];
  field.forEach((row, r) => {
    row.forEach((v, c) => {
      out.push([columnEdge(c), columnEdge(c + 1), altitudeEdges[r + 1], altitudeEdges[r], v]);
    });
  });
  return out;
}

// ---------------------------------------------------------------------------
// Layout (pixels)
// ---------------------------------------------------------------------------
const PANEL_W = 358, PANEL_H = 130.5;
const ROW_TOP0 = 31, ROW_STEP = 173.45;
const SET_LEFTS = [[82.7, 459], [1028.3, 1404]];
const COLORBARS = [
  { left: 849, top: 155.5, width: 27, height: 749.5 },
  { left: 1793.5, top: 155.5, width: 26, height: 749.5 }
];
const FONT = '"DejaVu Sans", "Liberation Sans", sans-serif';
const INK = '#111111';

const grids = [], xAxes = [], yAxes = [], series = [], graphics = [];

function panelCell(params, api) {
  const tl = api.coord([api.value(0), api.value(3)]);
  const br = api.coord([api.value(1), api.value(2)]);
  const color = api.visual('color');
  return {
    type: 'rect',
    shape: { x: tl[0], y: tl[1], width: br[0] - tl[0], height: br[1] - tl[1] },
    style: { fill: color, stroke: color, lineWidth: 0.6 }
  };
}

[temperatureFields, humidityFields].forEach((fields, s) => {
  fields.forEach((field, i) => {
    const row = Math.floor(i / 2), col = i % 2;
    const left = SET_LEFTS[s][col];
    const top = ROW_TOP0 + row * ROW_STEP;
    const g = grids.length;
    grids.push({
      left: left, top: top, width: PANEL_W, height: PANEL_H,
      show: true, borderColor: '#333333', borderWidth: 1,
      backgroundColor: 'rgba(0,0,0,0)', z: 5
    });
    xAxes.push({
      type: 'value', gridIndex: g, min: X_MIN, max: X_MAX,
      axisLine: { show: false, onZero: false },
      splitLine: { show: false },
      axisTick: { show: true, customValues: distanceTicks, length: 5, lineStyle: { color: '#222', width: 1 } },
      axisLabel: {
        show: row === 5, customValues: distanceTicks, margin: 8,
        color: INK, fontSize: 16, fontFamily: FONT
      }
    });
    yAxes.push({
      type: 'value', gridIndex: g, min: Y_MIN, max: Y_MAX,
      axisLine: { show: false, onZero: false },
      splitLine: { show: false },
      axisTick: { show: true, customValues: altitudeTicks, length: 5, lineStyle: { color: '#222', width: 1 } },
      axisLabel: {
        show: col === 0, customValues: altitudeTicks, margin: 9,
        color: INK, fontSize: 16, fontFamily: FONT
      }
    });
    series.push({
      type: 'custom',
      name: (s === 0 ? 'Temperature ' : 'Specific Humidity ') + times[i],
      xAxisIndex: g, yAxisIndex: g,
      renderItem: panelCell,
      encode: { x: [0, 1], y: [2, 3] },
      data: cellsOf(field),
      silent: true
    });
    graphics.push({
      type: 'text', x: left + PANEL_W / 2, y: top - 3, silent: true,
      style: { text: times[i], textAlign: 'center', textVerticalAlign: 'bottom', font: '18px ' + FONT, fill: INK }
    });
  });
});

// colour bars
const gradientStops = jetColors.map((c, i) => ({ offset: i / JET_STEPS, color: c }));
[[temperatureRange, temperatureTicks], [humidityRange, humidityTicks]].forEach(([range, ticks], k) => {
  const g = grids.length;
  const cb = COLORBARS[k];
  grids.push({
    left: cb.left, top: cb.top, width: cb.width, height: cb.height,
    show: true, borderColor: '#333333', borderWidth: 1,
    backgroundColor: 'rgba(0,0,0,0)', z: 5
  });
  xAxes.push({ type: 'value', gridIndex: g, min: 0, max: 1, show: false });
  yAxes.push({
    type: 'value', gridIndex: g, min: range[0], max: range[1], position: 'right',
    axisLine: { show: false, onZero: false },
    splitLine: { show: false },
    axisTick: { show: true, customValues: ticks, length: 5, lineStyle: { color: '#222', width: 1 } },
    axisLabel: { show: true, customValues: ticks, margin: 10, color: INK, fontSize: 16, fontFamily: FONT }
  });
  series.push({
    type: 'custom', xAxisIndex: g, yAxisIndex: g, silent: true,
    data: [[0, 1, range[0], range[1]]],
    encode: { x: [0, 1], y: [2, 3] },
    renderItem: (params, api) => {
      const tl = api.coord([api.value(0), api.value(3)]);
      const br = api.coord([api.value(1), api.value(2)]);
      return {
        type: 'rect',
        shape: { x: tl[0], y: tl[1], width: br[0] - tl[0], height: br[1] - tl[1] },
        style: { fill: { type: 'linear', x: 0, y: 1, x2: 0, y2: 0, colorStops: gradientStops } }
      };
    }
  });
});

// axis titles
function label(text, x, y, vertical) {
  graphics.push({
    type: 'text', x: x, y: y, rotation: vertical ? Math.PI / 2 : 0, silent: true,
    style: { text: text, textAlign: 'center', textVerticalAlign: 'middle', font: '18.5px ' + FONT, fill: INK }
  });
}
label('Altitude (m)', 24, 530, true);
label('Altitude (m)', 971, 530, true);
label('Distance (m)', 450, 1064, false);
label('Distance (m)', 1395, 1064, false);
label('Temperature (K)', 929, 530, true);
label('Specific Humidity (g/Kg)', 1862, 530, true);

const tempSeries = [], humSeries = [];
for (let i = 0; i < 12; i++) { tempSeries.push(i); humSeries.push(12 + i); }

const chart = echarts.init(document.getElementById('chart'), null, { renderer: 'svg', width: 1875, height: 1078 });
chart.setOption({
  animation: false,
  backgroundColor: '#ffffff',
  grid: grids,
  xAxis: xAxes,
  yAxis: yAxes,
  visualMap: [
    { type: 'continuous', show: false, min: temperatureRange[0], max: temperatureRange[1], dimension: 4, seriesIndex: tempSeries, inRange: { color: jetColors } },
    { type: 'continuous', show: false, min: humidityRange[0], max: humidityRange[1], dimension: 4, seriesIndex: humSeries, inRange: { color: jetColors } }
  ],
  series: series,
  graphic: graphics
});
</script>
</body>
</html>
